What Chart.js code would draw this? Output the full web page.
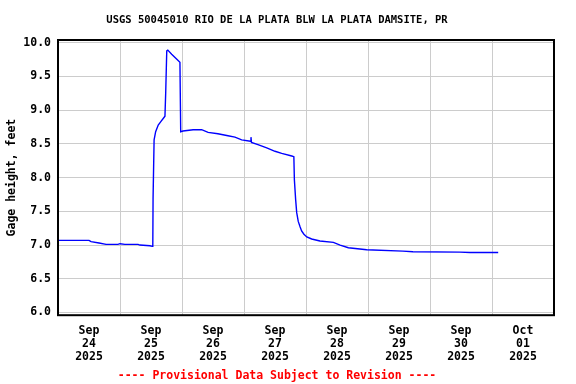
<!DOCTYPE html>
<html><head><meta charset="utf-8">
<script src="https://cdn.jsdelivr.net/npm/chart.js@4"></script>
<style>html,body{margin:0;padding:0;background:#fff}canvas{display:block}</style>
</head><body>
<canvas id="c" width="576" height="384"></canvas>
<script>
// Hours since 2025-09-24 00:00
const hours = [0, 12, 12.8, 15.9, 18.6, 23.2, 24, 25.9, 31, 31.7,
  35.6, 36.5, 36.7, 36.8, 37.2, 37.8, 38.8, 39.8, 40.8, 41.4,
  41.7, 42.1, 42.5, 44.0, 45.9, 47.2, 47.5, 48.4, 52.3, 55.6,
  58.1, 61.9, 65.8, 68.5, 71.1, 74.5, 74.7, 74.9, 77.4, 80.8,
  84, 86.6, 90.5, 91.3, 91.5, 92, 92.4, 93, 93.7, 94.3,
  95.2, 96.3, 98.2, 101.4, 106.6, 109.2, 112.4, 119.5, 133.5, 137.4,
  155.6, 159.5, 170.4];
const gageHeight = [7.07, 7.07, 7.05, 7.03, 7.01, 7.01, 7.02, 7.01, 7.01, 7.00,
  6.99, 6.98, 7.00, 7.69, 8.56, 8.68, 8.78, 8.83, 8.88, 8.91,
  9.27, 9.88, 9.89, 9.83, 9.76, 9.71, 8.68, 8.69, 8.71, 8.71,
  8.67, 8.65, 8.62, 8.60, 8.56, 8.54, 8.60, 8.52, 8.49, 8.44,
  8.39, 8.36, 8.32, 8.31, 7.97, 7.67, 7.48, 7.35, 7.27, 7.21,
  7.16, 7.12, 7.09, 7.06, 7.04, 7.00, 6.96, 6.93, 6.91, 6.90,
  6.895, 6.89, 6.89];

const labelHours = [12, 36, 60, 84, 108, 132, 156, 180];
const gridHours = [0, 24, 48, 72, 96, 120, 144, 168, 192];
const dayMonths = ["Sep", "Sep", "Sep", "Sep", "Sep", "Sep", "Sep", "Oct"];
const dayNumbers = ["24", "25", "26", "27", "28", "29", "30", "01"];
const dayYears = ["2025", "2025", "2025", "2025", "2025", "2025", "2025", "2025"];
const yTicks = [6.0, 6.5, 7.0, 7.5, 8.0, 8.5, 9.0, 9.5, 10.0];

const titleText = "USGS 50045010 RIO DE LA PLATA BLW LA PLATA DAMSITE, PR";
const footerText = "---- Provisional Data Subject to Revision ----";
const yTitle = "Gage height, feet";

const FONT = "'DejaVu Sans Mono', 'Liberation Mono', monospace";
Chart.defaults.font.family = FONT;
Chart.defaults.color = '#000';

const framePlugin = {
  id: 'frame',
  afterDraw(chart) {
    const a = chart.chartArea, ctx = chart.ctx;
    ctx.save();
    ctx.strokeStyle = '#000';
    ctx.lineWidth = 2;
    ctx.strokeRect(a.left, a.top, a.right - a.left, a.bottom - a.top);
    ctx.restore();
  }
};

new Chart(document.getElementById('c'), {
  type: 'line',
  data: {
    datasets: [{
      data: hours.map((h, i) => ({x: h, y: gageHeight[i]})),
      borderColor: '#0000ff',
      borderWidth: 1.4,
      pointRadius: 0,
      tension: 0,
      fill: false
    }]
  },
  options: {
    responsive: false,
    animation: false,
    devicePixelRatio: 1,
    layout: {padding: {left: 0, right: 22, top: 0, bottom: 0}},
    plugins: {
      legend: {display: false},
      tooltip: {enabled: false},
      title: {
        display: true, text: titleText, color: '#000',
        font: {family: FONT, size: 10.5, weight: 'bold'},
        padding: {top: 14, bottom: 13.4}
      },
      subtitle: {
        display: true, position: 'bottom', text: footerText, color: '#ff0000',
        font: {family: FONT, size: 11.5, weight: 'bold'},
        padding: {top: 4, bottom: 1}
      }
    },
    scales: {
      x: {
        type: 'linear', min: 0, max: 192,
        afterBuildTicks: s => {
          const all = gridHours.concat(labelHours).sort((a, b) => a - b);
          s.ticks = all.map(v => ({value: v}));
        },
        afterFit: s => { s.height = 50; },
        border: {display: false},
        grid: {
          drawTicks: false, lineWidth: 1,
          color: c => (c.tick && gridHours.indexOf(c.tick.value) > 0 && c.tick.value < 192) ? '#cccccc' : 'rgba(0,0,0,0)'
        },
        ticks: {
          autoSkip: false, maxRotation: 0, minRotation: 0, padding: 9, color: '#000',
          font: {family: FONT, size: 11.5, weight: 'bold', lineHeight: 1.13},
          callback: v => {
            const i = labelHours.indexOf(v);
            return i >= 0 ? [dayMonths[i], dayNumbers[i], dayYears[i]] : '';
          }
        }
      },
      y: {
        min: 5.96, max: 10.04,
        afterBuildTicks: s => { s.ticks = yTicks.map(v => ({value: v})); },
        afterFit: s => { s.width = 58; },
        border: {display: false},
        grid: {drawTicks: false, color: '#cccccc', lineWidth: 1},
        ticks: {
          padding: 7, color: '#000',
          font: {family: FONT, size: 11.5, weight: 'bold'},
          callback: v => v.toFixed(1)
        },
        title: {
          display: true, text: yTitle, color: '#000',
          font: {family: FONT, size: 11.5, weight: 'bold'},
          padding: {top: 5, bottom: 0}
        }
      }
    }
  },
  plugins: [framePlugin]
});
</script>
</body></html>
